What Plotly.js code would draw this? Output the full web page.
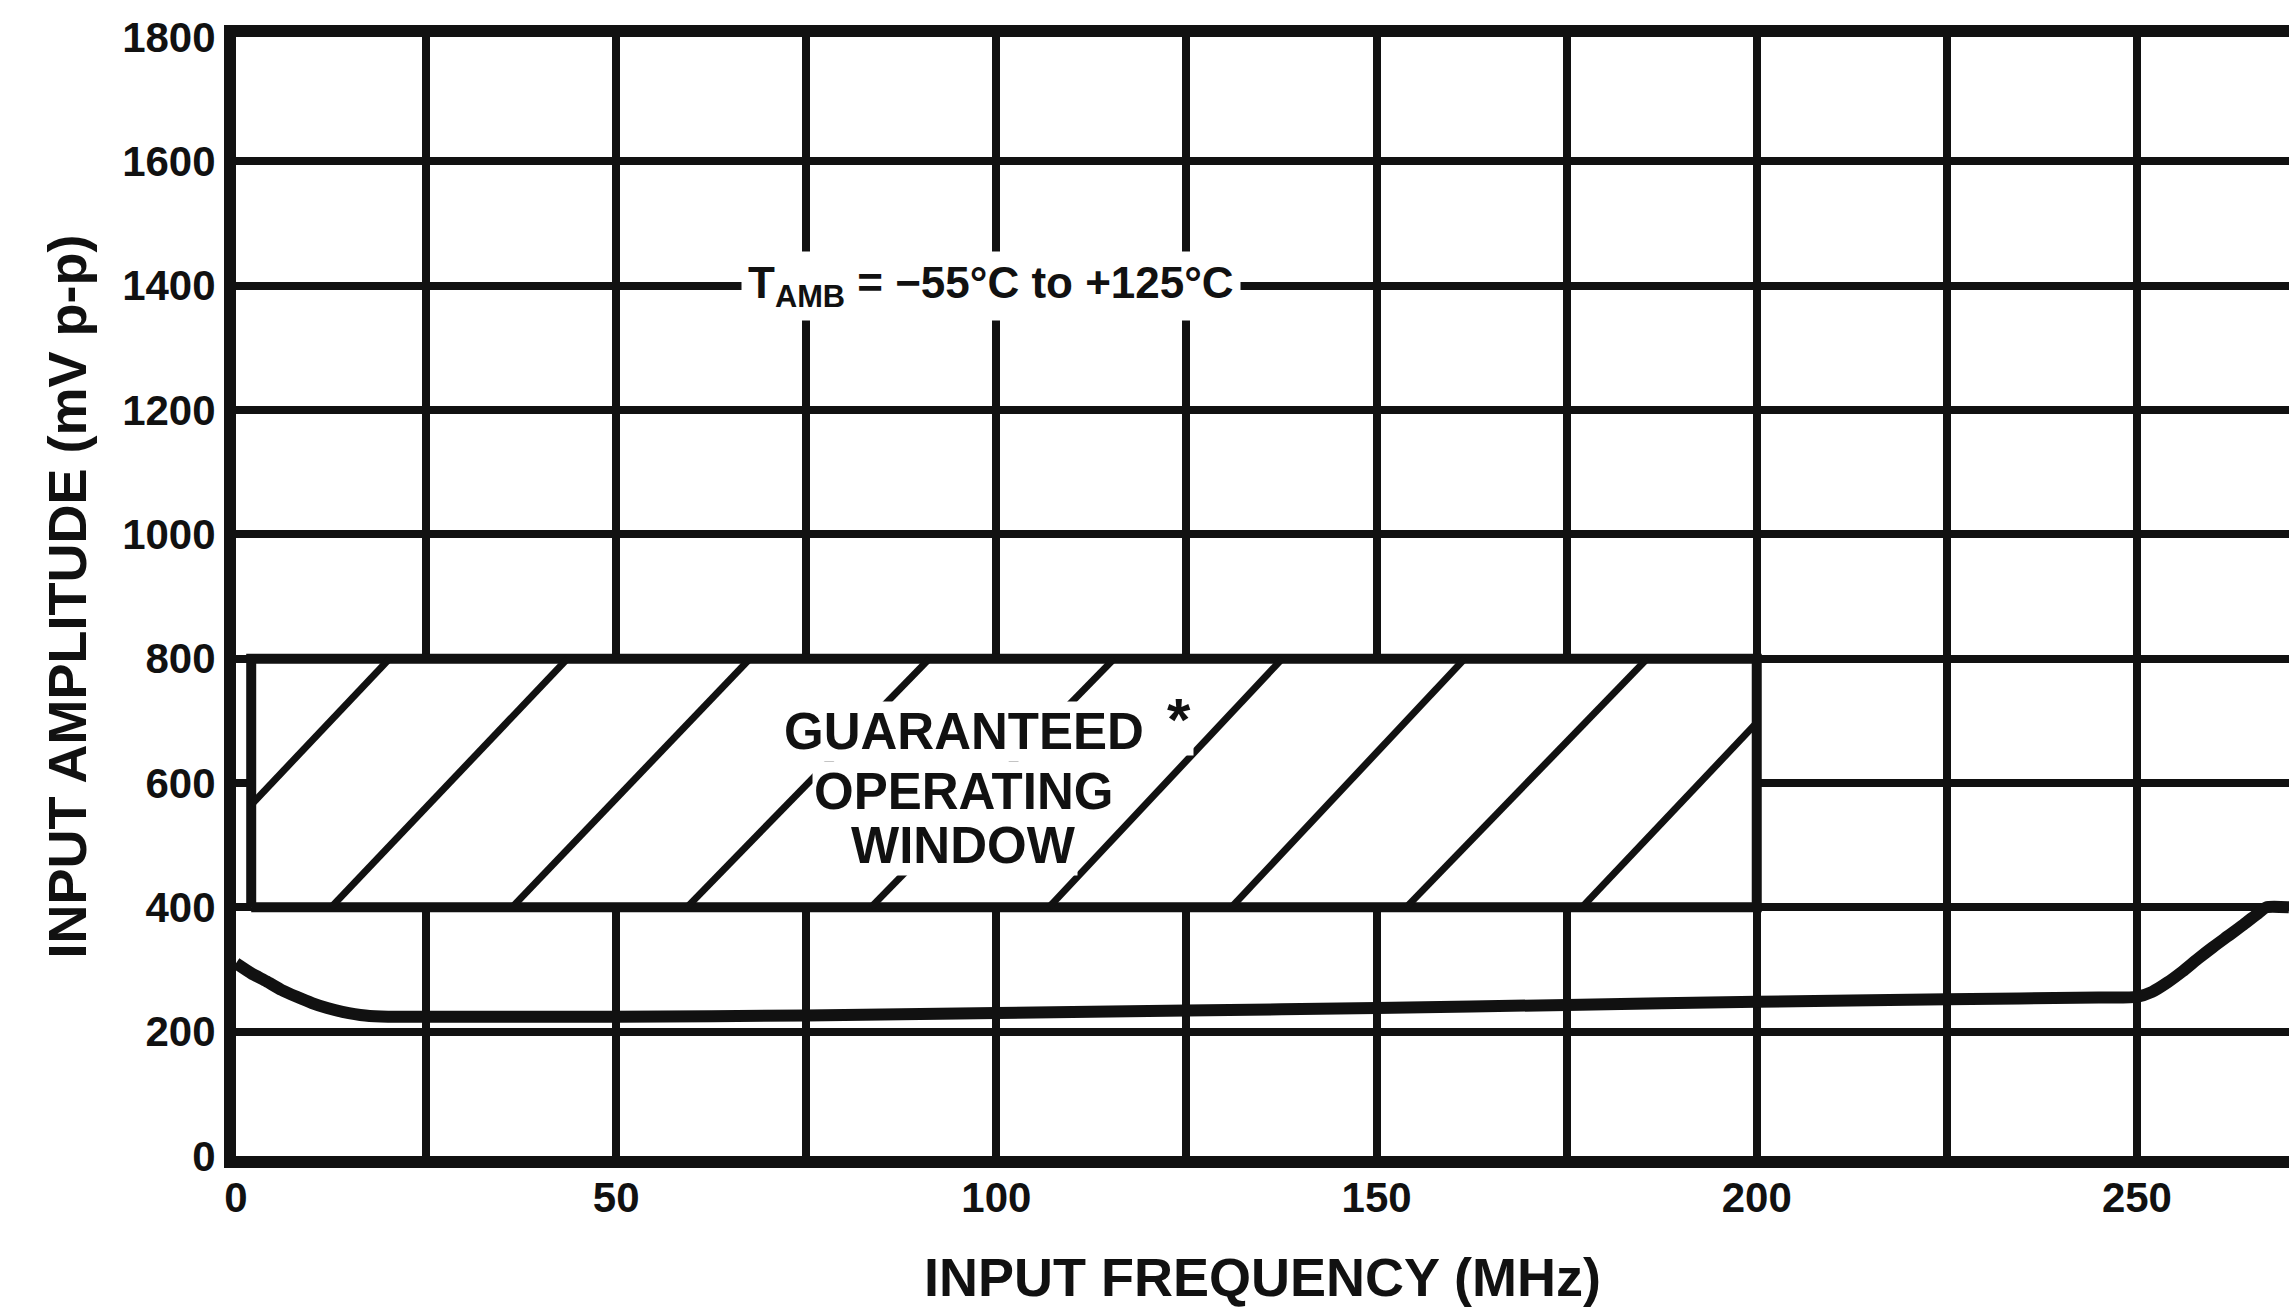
<!DOCTYPE html>
<html>
<head>
<meta charset="utf-8">
<script src="https://cdn.plot.ly/plotly-3.0.1.min.js"></script>
<style>html,body{margin:0;padding:0;background:#fff;}#chart{width:2289px;height:1315px;}</style>
</head>
<body>
<div id="chart"></div>
<script>
// ---- data ----
const freqMHz      = [0, 2, 4, 6, 8, 10, 12, 14, 17, 20, 25, 50, 75, 100, 125, 150, 175, 200, 225, 245, 250, 252, 254, 256, 258, 260, 262, 264, 266, 267, 270];
const amplitudeMV  = [310, 294, 281, 267, 256, 246, 238, 232, 226, 224, 224, 224, 226, 230, 234, 238, 243, 248, 252, 255, 256, 264, 279, 297, 317, 336, 354, 372, 391, 400, 400];

// guaranteed operating window (MHz, mV p-p)
const windowFreq = [2, 200];
const windowAmp  = [400, 800];

// hatch lines of the window: start and end points (MHz, mV)
const hatchX0 = [2,    12.5, 36.3, 59.3, 83.5, 106.9, 130.9, 153.9, 177];
const hatchY0 = [565,  400,  400,  400,  400,  400,   400,   400,   400];
const hatchX1 = [20.2, 43.6, 67.6, 91.2, 115.5, 137.6, 161.6, 185.6, 200];
const hatchY1 = [800,  800,  800,  800,  800,  800,   800,   800,   697];

// axes
const xTickVals  = [0, 50, 100, 150, 200, 250];
const xTickText  = ['0', '50', '100', '150', '200', '250'];
const xMinorGrid = [25, 75, 125, 175, 225];
const yTickVals  = [0, 200, 400, 600, 800, 1000, 1200, 1400, 1600, 1800];
const yTickText  = ['0', '200', '400', '600', '800', '1000', '1200', '1400', '1600', '1800'];

// ---- traces ----
const INK = '#111111';
const FONT = 'Liberation Sans, Arial, sans-serif';

const boxTrace = {
  type: 'scatter', mode: 'lines', hoverinfo: 'skip',
  x: [windowFreq[0], windowFreq[1], windowFreq[1], windowFreq[0], windowFreq[0]],
  y: [windowAmp[0], windowAmp[0], windowAmp[1], windowAmp[1], windowAmp[0]],
  fill: 'toself', fillcolor: '#ffffff',
  line: {color: INK, width: 10}
};

const hx = [], hy = [];
for (let i = 0; i < hatchX0.length; i++) {
  hx.push(hatchX0[i], hatchX1[i], null);
  hy.push(hatchY0[i], hatchY1[i], null);
}
const hatchTrace = {
  type: 'scatter', mode: 'lines', hoverinfo: 'skip',
  x: hx, y: hy, connectgaps: false,
  line: {color: INK, width: 7}
};

const curveTrace = {
  type: 'scatter', mode: 'lines',
  x: freqMHz, y: amplitudeMV,
  line: {color: INK, width: 12, shape: 'spline', smoothing: 0.6}
};

const tickFont = {family: FONT, size: 42, color: INK, weight: 'bold'};
const titleFont = {family: FONT, size: 54, color: INK, weight: 'bold'};
const boxFont = {family: FONT, size: 51, color: INK, weight: 'bold'};

const layout = {
  width: 2289, height: 1315,
  margin: {l: 236, r: 0, t: 37, b: 159},
  paper_bgcolor: '#ffffff', plot_bgcolor: '#ffffff',
  showlegend: false,
  xaxis: {
    range: [0, 270], tickmode: 'array', tickvals: xTickVals, ticktext: xTickText,
    showgrid: true, gridcolor: INK, gridwidth: 8,
    minor: {tickmode: 'array', tickvals: xMinorGrid, showgrid: true, gridcolor: INK, gridwidth: 8, ticks: ''},
    showline: true, linecolor: INK, linewidth: 12, mirror: true,
    zeroline: false, ticks: '', ticklabelstandoff: -6,
    tickfont: tickFont, automargin: false,
    title: {text: 'INPUT FREQUENCY (MHz)', font: titleFont, standoff: 43}
  },
  yaxis: {
    range: [0, 1800], tickmode: 'array', tickvals: yTickVals, ticktext: yTickText,
    showgrid: true, gridcolor: INK, gridwidth: 8,
    showline: true, linecolor: INK, linewidth: 12, mirror: false,
    zeroline: false, ticks: '', ticklabelstandoff: 0,
    tickfont: tickFont, automargin: false,
    title: {text: 'INPUT AMPLITUDE (mV p-p)', font: titleFont, standoff: 23}
  },
  annotations: [
    {x: 99.3, y: 1400, xref: 'x', yref: 'y', text: 'T<sub>AMB</sub> = −55°C to +125°C',
     showarrow: false, font: {family: FONT, size: 44, color: INK, weight: 'bold'},
     bgcolor: '#ffffff', borderpad: 6},
    {x: 95.7, y: 683, xref: 'x', yref: 'y', text: 'GUARANTEED', showarrow: false,
     font: boxFont, bgcolor: '#ffffff', borderpad: 1},
    {x: 95.7, y: 587, xref: 'x', yref: 'y', text: 'OPERATING', showarrow: false,
     font: boxFont, bgcolor: '#ffffff', borderpad: 1},
    {x: 95.7, y: 500, xref: 'x', yref: 'y', text: 'WINDOW', showarrow: false,
     font: boxFont, bgcolor: '#ffffff', borderpad: 1},
    {x: 124, y: 702, xref: 'x', yref: 'y', text: '*', showarrow: false,
     font: {family: FONT, size: 60, color: INK, weight: 'bold'}, bgcolor: '#ffffff', borderpad: 2}
  ]
};

Plotly.newPlot('chart', [boxTrace, hatchTrace, curveTrace], layout, {displayModeBar: false, staticPlot: true});
</script>
</body>
</html>
